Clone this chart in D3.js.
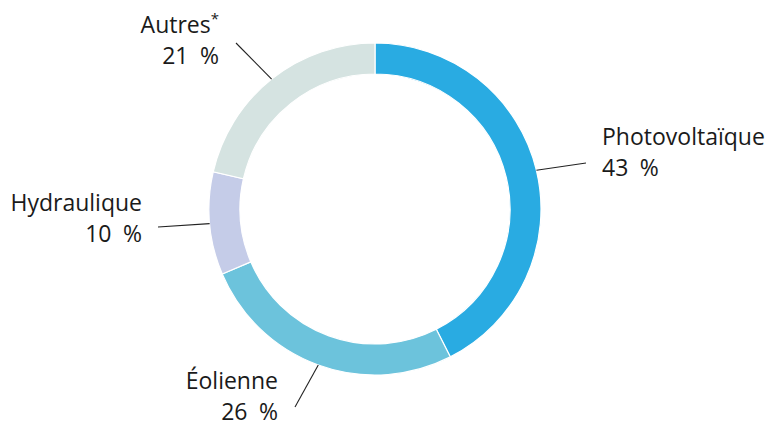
<!DOCTYPE html>
<html><head><meta charset="utf-8">
<script src="https://cdn.jsdelivr.net/npm/d3@7"></script>
<style>body{margin:0;background:#fff}svg{display:block}</style>
</head><body>
<script>
const categories = ["Photovoltaïque", "Éolienne", "Hydraulique", "Autres"];
const values = [42.5, 26.1, 10.0, 21.4];
const valueLabels = ["43\u2002%", "26\u2002%", "10\u2002%", "21\u2002%"];
const colors = ["#29abe2", "#6cc3dc", "#c5cce8", "#d5e3e1"];

const W = 770, H = 427, cx = 375, cy = 209, rOut = 166, rIn = 135;
const svg = d3.select("body").append("svg").attr("width", W).attr("height", H);
const g = svg.append("g").attr("transform", `translate(${cx},${cy})`);

const pie = d3.pie().sort(null).value(d => d)(values);
const arc = d3.arc().innerRadius(rIn).outerRadius(rOut);
g.selectAll("path.slice").data(pie).join("path")
  .attr("d", arc).attr("fill", (d, i) => colors[i])
  .attr("stroke", "#fff").attr("stroke-width", 1.2);

// label layout: leader end point (relative to centre), text anchor point, alignment
const layout = [
  {end: [211, -46], tx: 227, ty: -64, anchor: "start"},
  {end: [-80, 198], tx: -97, ty: 180, anchor: "end"},
  {end: [-217, 18], tx: -233, ty: 2, anchor: "end"},
  {end: [-139, -166], tx: -156, ty: -176, anchor: "end"}
];
const lineH = 31;
pie.forEach((d, i) => {
  const a = (d.startAngle + d.endAngle) / 2;
  const x0 = rOut * Math.sin(a), y0 = -rOut * Math.cos(a);
  const L = layout[i];
  g.append("line").attr("x1", x0).attr("y1", y0).attr("x2", L.end[0]).attr("y2", L.end[1])
    .attr("stroke", "#222").attr("stroke-width", 1.1);
  const t = g.append("text").attr("text-anchor", L.anchor)
    .attr("font-family", "'Open Sans', sans-serif").attr("font-size", 23).attr("fill", "#1a1a1a");
  t.append("tspan").attr("x", L.tx).attr("y", L.ty).text(categories[i]);
  if (categories[i] === "Autres") {
    t.append("tspan").attr("dy", -9).attr("font-size", 15).text("*");
  }
  t.append("tspan").attr("x", L.tx).attr("y", L.ty + lineH).text(valueLabels[i]);
});
</script>
</body></html>
